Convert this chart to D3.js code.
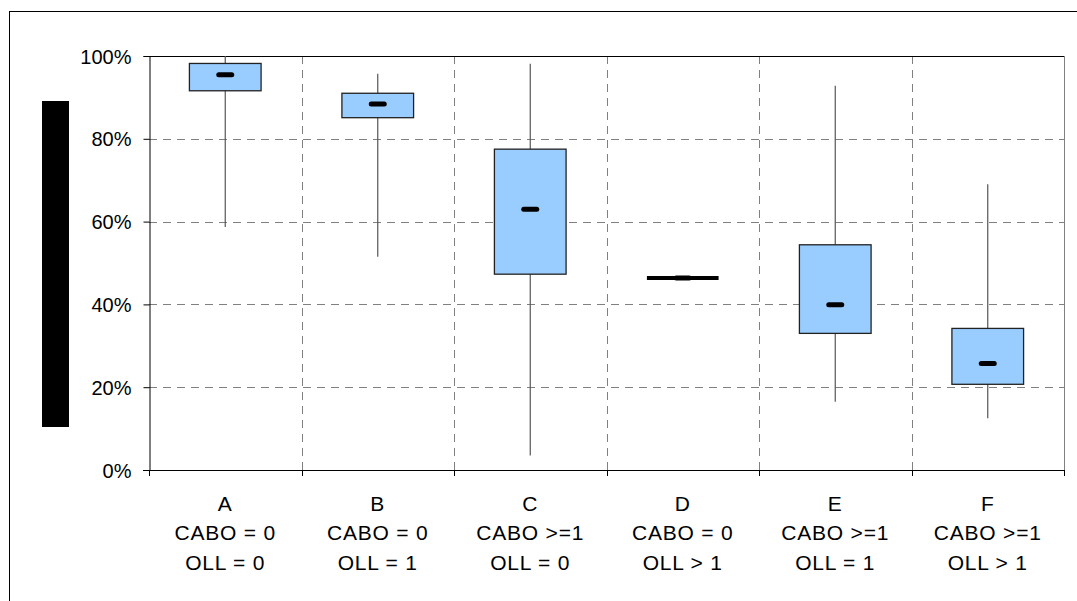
<!DOCTYPE html>
<html>
<head>
<meta charset="utf-8">
<script src="https://cdn.jsdelivr.net/npm/d3@7"></script>
<style>
body{margin:0;background:#fff;}
text{font-family:"Liberation Sans",Arial,sans-serif;fill:#000;}
</style>
</head>
<body>
<script>
// DATA
var categories=["A","B","C","D","E","F"];
var cabo=["CABO = 0","CABO = 0","CABO >=1","CABO = 0","CABO >=1","CABO >=1"];
var oll=["OLL = 0","OLL = 1","OLL = 0","OLL > 1","OLL = 1","OLL > 1"];
var whiskerMax=[1.000,0.957,0.981,0.464,0.928,0.690];
var q3=[0.982,0.910,0.775,0.464,0.544,0.342];
var median=[0.955,0.884,0.630,0.464,0.399,0.257];
var q1=[0.916,0.851,0.473,0.464,0.330,0.207];
var whiskerMin=[0.587,0.515,0.035,0.464,0.165,0.125];
var yTicks=[0,0.2,0.4,0.6,0.8,1];

//CANVAS
var svg_width=1077, svg_height=601;
var pLeft=149, pRight=1064, pTop=56, pBottom=470;

var svg=d3.select("body").append("svg")
  .attr("width",svg_width)
  .attr("height",svg_height);

// outer frame (cut off at right and bottom)
svg.append("rect")
  .attr("x",9.5).attr("y",11.5)
  .attr("width",1200).attr("height",800)
  .attr("fill","none").attr("stroke","#000").attr("stroke-width",1);

// blacked out axis title
svg.append("rect")
  .attr("x",42).attr("y",101).attr("width",27).attr("height",326)
  .attr("fill","#000");

var x=d3.scaleBand().domain(categories).range([pLeft,pRight]).padding(0);
var y=d3.scaleLinear().domain([0,1]).range([pBottom,pTop]);

var data=categories.map(function(c,i){
  return {cat:c,l2:cabo[i],l3:oll[i],max:whiskerMax[i],q3:q3[i],med:median[i],q1:q1[i],min:whiskerMin[i]};
});

var bounds=categories.map(function(c){return x(c);}).concat([pRight]);

// gridlines
svg.append("g").selectAll("line")
  .data(yTicks.filter(function(t){return t>0 && t<1;}))
  .enter().append("line")
  .attr("x1",pLeft).attr("x2",pRight)
  .attr("y1",function(d){return Math.round(y(d))+0.5;})
  .attr("y2",function(d){return Math.round(y(d))+0.5;})
  .attr("stroke","#808080").attr("stroke-width",1)
  .attr("stroke-dasharray","8,6");

svg.append("g").selectAll("line")
  .data(bounds.slice(1,bounds.length-1))
  .enter().append("line")
  .attr("x1",function(d){return Math.round(d)+0.5;})
  .attr("x2",function(d){return Math.round(d)+0.5;})
  .attr("y1",pTop).attr("y2",pBottom)
  .attr("stroke","#808080").attr("stroke-width",1)
  .attr("stroke-dasharray","8,6");

// top and right border of plot
svg.append("line")
  .attr("x1",pLeft).attr("x2",pRight).attr("y1",pTop+0.5).attr("y2",pTop+0.5)
  .attr("stroke","#000");
svg.append("line")
  .attr("x1",pRight+0.5).attr("x2",pRight+0.5).attr("y1",pTop).attr("y2",pBottom)
  .attr("stroke","#808080");

// y axis
var yAxis=svg.append("g")
  .attr("transform","translate("+(pLeft+0.5)+",0)")
  .call(d3.axisLeft(y).tickValues(yTicks).tickFormat(d3.format(".0%")).tickSize(6).tickPadding(12));
yAxis.select(".domain").attr("stroke","#000");
yAxis.selectAll(".tick line").attr("stroke","#000");
yAxis.selectAll("text").style("font-size","20px").attr("dy","0.35em");

// x axis
svg.append("line")
  .attr("x1",pLeft-6).attr("x2",pRight+1).attr("y1",pBottom+0.5).attr("y2",pBottom+0.5)
  .attr("stroke","#000");
svg.append("g").selectAll("line")
  .data(bounds)
  .enter().append("line")
  .attr("x1",function(d){return Math.round(d)+0.5;})
  .attr("x2",function(d){return Math.round(d)+0.5;})
  .attr("y1",pBottom).attr("y2",pBottom+6)
  .attr("stroke","#000");

// labels
var lab=svg.append("g").selectAll("text")
  .data(data)
  .enter().append("text")
  .attr("text-anchor","middle")
  .style("font-size","21px")
  .style("letter-spacing","0.8px");
lab.append("tspan")
  .attr("x",function(d){return x(d.cat)+x.bandwidth()/2;})
  .attr("y",510.5)
  .text(function(d){return d.cat;});
lab.append("tspan")
  .attr("x",function(d){return x(d.cat)+x.bandwidth()/2;})
  .attr("y",540)
  .text(function(d){return d.l2;});
lab.append("tspan")
  .attr("x",function(d){return x(d.cat)+x.bandwidth()/2;})
  .attr("y",569.5)
  .text(function(d){return d.l3;});

// boxes
var boxW=x.bandwidth()*0.47;
var g=svg.append("g").selectAll("g")
  .data(data)
  .enter().append("g")
  .attr("transform",function(d){return "translate("+(x(d.cat)+x.bandwidth()/2)+",0)";});

g.append("line")
  .attr("x1",0).attr("x2",0)
  .attr("y1",function(d){return y(d.max);})
  .attr("y2",function(d){return y(d.min);})
  .attr("stroke","#555").attr("stroke-width",1.2);

g.filter(function(d){return d.q3>d.q1;})
  .append("rect")
  .attr("x",-boxW/2)
  .attr("y",function(d){return y(d.q3);})
  .attr("width",boxW)
  .attr("height",function(d){return y(d.q1)-y(d.q3);})
  .attr("fill","#99ccff")
  .attr("stroke","#222").attr("stroke-width",1.3);

// collapsed box drawn as a heavy line
g.filter(function(d){return d.q3<=d.q1;})
  .append("line")
  .attr("x1",-boxW/2).attr("x2",boxW/2)
  .attr("y1",function(d){return y(d.med);})
  .attr("y2",function(d){return y(d.med);})
  .attr("stroke","#000").attr("stroke-width",4);

g.append("line")
  .attr("x1",-6.5).attr("x2",6.5)
  .attr("y1",function(d){return y(d.med);})
  .attr("y2",function(d){return y(d.med);})
  .attr("stroke","#000").attr("stroke-width",5)
  .attr("stroke-linecap","round");
</script>
</body>
</html>
